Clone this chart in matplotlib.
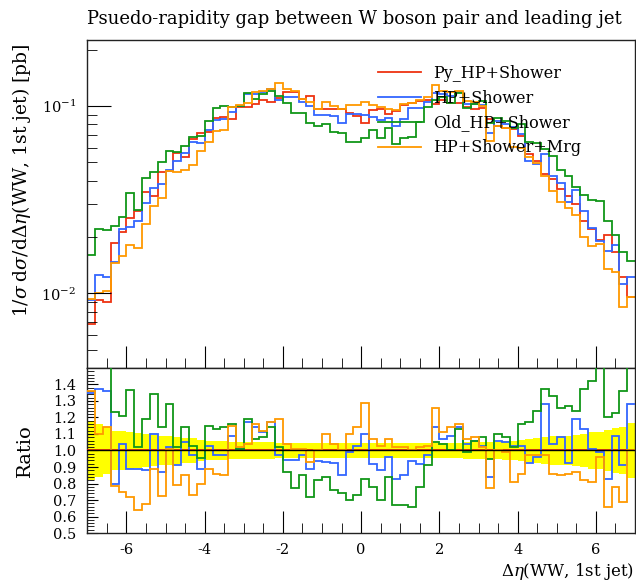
import numpy as np
import matplotlib.pyplot as plt
from matplotlib.ticker import MultipleLocator, LogLocator, NullFormatter, FuncFormatter, FixedLocator

plt.rcParams['font.family'] = 'DejaVu Serif'
plt.rcParams['mathtext.fontset'] = 'dejavuserif'

# binning in Delta eta(WW, 1st jet), 70 bins of 0.2
edges = np.linspace(-7.0, 7.0, 71)

# reference: Py_HP+Shower (red)
py_hp = np.array([
    0.00684, 0.00918, 0.00901, 0.0185, 0.0212, 0.0253, 0.0274, 0.0346, 0.0332, 0.0443,
    0.0448, 0.0560, 0.0538, 0.0665, 0.0722, 0.0727, 0.0860, 0.0874, 0.0857, 0.0993,
    0.0993, 0.102, 0.1076, 0.105, 0.111, 0.119, 0.119, 0.1085, 0.113, 0.096,
    0.096, 0.096, 0.096, 0.0922, 0.0885, 0.0816, 0.0952, 0.096, 0.0904, 0.094,
    0.1009, 0.104, 0.106, 0.108, 0.103, 0.108, 0.104, 0.104, 0.099, 0.097,
    0.098, 0.085, 0.0783, 0.0767, 0.0751, 0.0693, 0.0553, 0.051, 0.0433, 0.0407,
    0.0361, 0.0332, 0.030, 0.0244, 0.0221, 0.0192, 0.0204, 0.0166, 0.0122, 0.00958])

# ratios to the reference
ratio_hp = [
    1.35, 1.37, 1.36, 0.80, 1.04, 0.89, 0.89, 0.88, 1.10, 0.87,
    1.02, 0.91, 1.05, 0.97, 0.885, 1.03, 0.975, 0.975, 1.09, 1.01,
    1.17, 1.14, 1.11, 1.17, 0.975, 0.945, 0.945, 0.975, 0.885, 0.935,
    0.93, 0.925, 0.85, 0.99, 1.03, 1.10, 0.92, 0.88, 0.96, 0.83,
    0.85, 0.935, 0.92, 0.97, 1.14, 1.07, 1.09, 1.14, 1.04, 1.06,
    1.03, 0.84, 1.06, 1.05, 1.03, 1.03, 0.925, 0.96, 1.28, 1.04,
    1.08, 0.925, 1.19, 1.13, 1.01, 0.99, 0.83, 1.09, 0.915, 1.28]

ratio_old = [
    2.35, 2.41, 2.41, 1.234, 1.208, 1.366, 1.02, 1.19, 1.34, 1.14,
    1.28, 1.02, 1.14, 1.03, 0.955, 1.15, 1.13, 1.14, 1.16, 1.01,
    1.19, 1.07, 1.08, 1.14, 1.02, 0.87, 0.77, 0.85, 0.72, 0.82,
    0.84, 0.76, 0.745, 0.70, 0.73, 0.83, 0.78, 0.70, 0.84, 0.67,
    0.67, 0.66, 0.78, 0.91, 1.05, 1.04, 1.0, 1.13, 0.99, 1.06,
    1.08, 0.95, 1.10, 1.08, 1.02, 1.16, 1.17, 1.24, 1.37, 1.33,
    1.26, 1.27, 1.24, 1.37, 1.42, 1.62, 1.20, 1.23, 1.36, 1.55]

ratio_mrg = [
    1.36, 1.10, 1.14, 0.785, 0.75, 0.72, 0.64, 0.675, 0.885, 0.725,
    1.01, 0.79, 0.85, 0.73, 0.80, 0.89, 0.855, 0.85, 1.15, 1.02,
    1.04, 1.16, 1.12, 1.17, 1.19, 1.04, 1.01, 1.01, 0.93, 1.0,
    1.10, 1.04, 1.0, 1.10, 1.14, 1.29, 1.07, 1.03, 1.07, 1.02,
    1.02, 1.0, 1.02, 1.03, 1.26, 1.11, 1.14, 1.16, 1.07, 1.08,
    1.02, 0.77, 1.0, 0.99, 0.81, 0.86, 0.97, 0.975, 0.975, 0.86,
    0.85, 0.86, 0.87, 0.82, 0.81, 0.96, 0.66, 0.78, 0.69, 1.0]

# half width of the yellow reference band
band = [
    0.18, 0.16, 0.14, 0.12, 0.12, 0.11, 0.105, 0.10, 0.095, 0.09,
    0.085, 0.08, 0.078, 0.075, 0.065, 0.06, 0.06, 0.055, 0.05, 0.05,
    0.05, 0.05, 0.05, 0.05, 0.048, 0.048, 0.048, 0.046, 0.046, 0.045,
    0.045, 0.045, 0.045, 0.045, 0.045, 0.045, 0.045, 0.045, 0.045, 0.045,
    0.045, 0.046, 0.046, 0.046, 0.047, 0.047, 0.048, 0.048, 0.05, 0.05,
    0.05, 0.05, 0.05, 0.055, 0.06, 0.065, 0.07, 0.075, 0.08, 0.085,
    0.09, 0.09, 0.095, 0.10, 0.11, 0.115, 0.125, 0.135, 0.145, 0.165]

labels = ['Py_HP+Shower', 'HP+Shower', 'Old_HP+Shower', 'HP+Shower+Mrg']
colors = ['#EE3311', '#3366FF', '#109618', '#FF9900']

ratios = [np.ones(len(py_hp)), np.array(ratio_hp), np.array(ratio_old), np.array(ratio_mrg)]
series = [py_hp * r for r in ratios]

fig = plt.figure(figsize=(6.36, 5.84), dpi=100)
ax = fig.add_axes([0.1373, 0.3699, 0.8611, 0.5608])
rax = fig.add_axes([0.1373, 0.0873, 0.8611, 0.2826], sharex=ax)

for s, c, lab in zip(series, colors, labels):
    ax.stairs(s, edges, baseline=None, color=c, lw=1.3, label=lab)

ax.set_yscale('log')
ax.set_xlim(-7, 7)
ax.set_ylim(0.0040, 0.224)
ax.yaxis.set_major_locator(FixedLocator([0.01, 0.1]))
ax.yaxis.set_minor_locator(LogLocator(base=10, subs=np.arange(2, 10)))
ax.yaxis.set_minor_formatter(NullFormatter())
ax.yaxis.set_major_formatter(FuncFormatter(lambda v, p: r'$10^{%d}$' % round(np.log10(v))))
ax.tick_params(axis='x', which='both', direction='in', labelbottom=False)
ax.tick_params(axis='x', which='major', length=16)
ax.tick_params(axis='x', which='minor', length=7)
ax.tick_params(axis='y', which='major', direction='in', length=17, pad=8, labelsize=10.5)
ax.tick_params(axis='y', which='minor', direction='in', length=7)

ax.legend(loc='upper left', bbox_to_anchor=(0.531, 0.926), frameon=False, fontsize=11.5,
          handlelength=2.67, handletextpad=0.75, labelspacing=0.49, borderpad=0, borderaxespad=0)

# ratio panel
rax.bar(0.5 * (edges[:-1] + edges[1:]), 2 * np.array(band), bottom=1 - np.array(band),
        width=np.diff(edges), color='#FFFF00', linewidth=0, align='center', zorder=1)
for r, c in zip(ratios, colors):
    rax.stairs(r, edges, baseline=None, color=c, lw=1.3, zorder=3)
rax.axhline(1.0, color='black', lw=1.0, zorder=4)

rax.set_ylim(0.5, 1.5)
rax.yaxis.set_major_locator(FixedLocator(np.arange(0.5, 1.45, 0.1)))
rax.yaxis.set_minor_locator(MultipleLocator(0.02))
rax.yaxis.set_major_formatter(FuncFormatter(lambda v, p: '%.1f' % v))
rax.xaxis.set_major_locator(MultipleLocator(2))
rax.xaxis.set_minor_locator(MultipleLocator(0.5))
rax.xaxis.set_major_formatter(FuncFormatter(lambda v, p: '%d' % round(v)))
rax.tick_params(axis='x', which='major', direction='in', length=16, pad=7, labelsize=10.5)
rax.tick_params(axis='x', which='minor', direction='in', length=7)
rax.tick_params(axis='y', which='major', direction='in', length=8, pad=8, labelsize=10.5)
rax.tick_params(axis='y', which='minor', direction='in', length=5)

for a in (ax, rax):
    for sp in a.spines.values():
        sp.set_linewidth(1.0)
        sp.set_color('#222222')

fig.text(0.1373, 1 - 24 / 584, 'Psuedo-rapidity gap between W boson pair and leading jet',
         ha='left', va='baseline', fontsize=13)
fig.text(22 / 636, 1 - 44 / 584,
         r'$1/\sigma\;\mathrm{d}\sigma/\mathrm{d}\Delta\eta$(WW, 1st jet) [pb]',
         rotation=90, ha='center', va='top', fontsize=13.5)
fig.text(25 / 636, 1 - 451 / 584, 'Ratio', rotation=90, ha='center', va='center', fontsize=14)
fig.text(634 / 636, 1 - 576 / 584, r'$\Delta\eta$(WW, 1st jet)', ha='right', va='baseline',
         fontsize=12)

fig.savefig('out.png', dpi=100)
